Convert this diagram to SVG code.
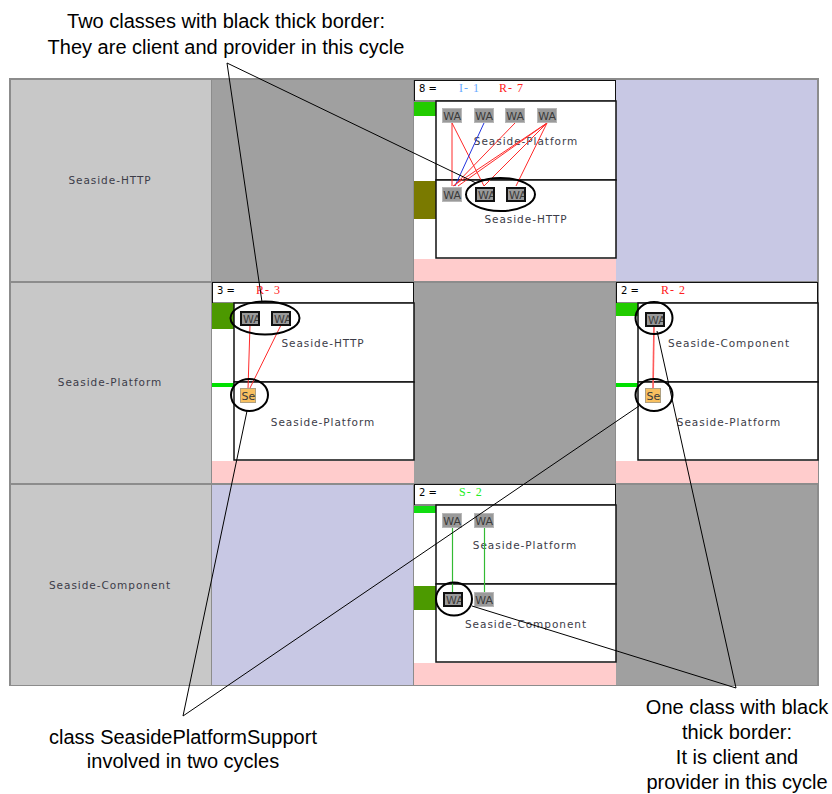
<svg xmlns="http://www.w3.org/2000/svg" xmlns:xlink="http://www.w3.org/1999/xlink" width="832" height="794" viewBox="0 0 832 794">
<defs>
<style>
.note{font-family:"Liberation Sans",Arial,sans-serif;font-size:20px;fill:#000;text-anchor:middle}
.lbl{font-family:"DejaVu Sans",sans-serif;font-size:10.5px;fill:#3c3c48;text-anchor:middle;letter-spacing:0.95px}
.hdr{font-family:"DejaVu Sans",sans-serif;font-size:10px;fill:#000}
.cyc{font-family:"Liberation Serif",serif;font-size:12px;letter-spacing:1px}
.box{fill:#fff;stroke:#111;stroke-width:1.5}
.ann{stroke:#000;stroke-width:1;fill:none}
.ell{stroke:#000;stroke-width:2;fill:none}
.red{stroke:#ff2a2a;stroke-width:1;fill:none}
.blue{stroke:#2233dd;stroke-width:1;fill:none}
.grn{stroke:#33bb33;stroke-width:1.2;fill:none}
.watx{font-family:"DejaVu Sans",sans-serif;font-size:11px;fill:#3a3a3a}
</style>
<symbol id="wa" viewBox="0 0 20 15" overflow="hidden">
<rect x="0.5" y="0.5" width="19" height="14" fill="#9a9a9a" stroke="#b8b8b8"/>
<text class="watx" x="1.2" y="11.8">WA</text>
</symbol>
<symbol id="wat" viewBox="0 0 20 15" overflow="hidden">
<rect x="0" y="0" width="20" height="15" fill="#9a9a9a"/>
<text class="watx" x="3" y="11.8" fill="#555">WA</text>
<rect x="1" y="1" width="18" height="13" fill="none" stroke="#111" stroke-width="2"/>
</symbol>
<symbol id="se" viewBox="0 0 16 15" overflow="hidden">
<rect x="0.5" y="0.5" width="15" height="14" fill="#f8c060" stroke="#b0a080"/>
<text class="watx" x="1.5" y="11.8" fill="#4a3a20">Se</text>
</symbol>
</defs>

<rect x="0" y="0" width="832" height="794" fill="#fff"/>

<g id="grid">
<rect x="9" y="78" width="810" height="608" fill="#8c8c8c"/>
<rect x="11" y="80" width="200" height="201" fill="#c8c8c8"/>
<rect x="11" y="283" width="200" height="200" fill="#c8c8c8"/>
<rect x="11" y="485" width="200" height="200" fill="#c8c8c8"/>
<rect x="212" y="80" width="201" height="201" fill="#a0a0a0"/>
<rect x="414" y="283" width="201" height="200" fill="#a0a0a0"/>
<rect x="616" y="485" width="201" height="200" fill="#a0a0a0"/>
<rect x="616" y="80" width="201" height="201" fill="#c8c8e4"/>
<rect x="212" y="485" width="201" height="200" fill="#c8c8e4"/>
</g>

<g id="row-labels">
<text class="lbl" x="110" y="184">Seaside-HTTP</text>
<text class="lbl" x="110" y="386">Seaside-Platform</text>
<text class="lbl" x="110" y="589">Seaside-Component</text>
</g>

<g id="cell-http-platform" transform="translate(414,80)">
<rect x="0" y="0" width="202" height="201" fill="#fff"/>
<rect x="0" y="179" width="202" height="22" fill="#ffcccc"/>
<rect x="0.5" y="0.5" width="201" height="20.5" fill="#fff" stroke="#111" stroke-width="1"/>
<rect x="0" y="22" width="22" height="14" fill="#22cc00"/>
<rect x="0" y="101" width="22" height="38" fill="#7a7a00"/>
<rect class="box" x="22" y="21" width="180" height="79"/>
<rect class="box" x="22" y="100" width="180" height="78"/>
<text class="hdr" x="5" y="11.5">8 =</text>
<text class="cyc" x="45" y="11.5" fill="#66aaff">I- 1</text>
<text class="cyc" x="85" y="11.5" fill="#ff2020">R- 7</text>
<text class="lbl" x="112" y="65">Seaside-Platform</text>
<text class="lbl" x="112" y="143">Seaside-HTTP</text>
<line class="red" x1="38" y1="43" x2="38" y2="106"/>
<line class="red" x1="38" y1="43" x2="70" y2="106"/>
<line class="blue" x1="70" y1="43" x2="41" y2="106"/>
<line class="red" x1="101" y1="43" x2="40" y2="106"/>
<line class="red" x1="133" y1="43" x2="39" y2="106"/>
<line class="red" x1="133" y1="43" x2="44" y2="106"/>
<line class="red" x1="133" y1="43" x2="70" y2="106"/>
<line class="red" x1="133" y1="43" x2="102" y2="106"/>
<use href="#wa" x="28" y="28" width="20" height="15"/>
<use href="#wa" x="60" y="28" width="20" height="15"/>
<use href="#wa" x="91" y="28" width="20" height="15"/>
<use href="#wa" x="123" y="28" width="20" height="15"/>
<use href="#wa" x="28" y="107" width="20" height="15"/>
<use href="#wat" x="61" y="107" width="20" height="15"/>
<use href="#wat" x="92" y="107" width="20" height="15"/>
</g>

<g id="cell-platform-http" transform="translate(212,282)">
<rect x="0" y="0" width="202" height="201" fill="#fff"/>
<rect x="0" y="179" width="202" height="22" fill="#ffcccc"/>
<rect x="0.5" y="0.5" width="201" height="20.5" fill="#fff" stroke="#111" stroke-width="1"/>
<rect x="0" y="21" width="22" height="26" fill="#4c9900"/>
<rect x="0" y="101" width="22" height="4" fill="#00e000"/>
<rect class="box" x="22" y="21" width="180" height="79"/>
<rect class="box" x="22" y="100" width="180" height="78"/>
<text class="hdr" x="5" y="11.5">3 =</text>
<text class="cyc" x="44" y="11.5" fill="#ff2020">R- 3</text>
<text class="lbl" x="111" y="65">Seaside-HTTP</text>
<text class="lbl" x="111" y="144">Seaside-Platform</text>
<line class="red" x1="38" y1="43" x2="36" y2="107"/>
<line class="red" x1="69" y1="43" x2="37.5" y2="107"/>
<use href="#wat" x="28" y="29" width="20" height="15"/>
<use href="#wat" x="59" y="29" width="20" height="15"/>
<use href="#se" x="28" y="106" width="16" height="15"/>
</g>

<g id="cell-platform-component" transform="translate(616,282)">
<rect x="0" y="0" width="202" height="201" fill="#fff"/>
<rect x="0" y="179" width="202" height="22" fill="#ffcccc"/>
<rect x="0.5" y="0.5" width="201" height="20.5" fill="#fff" stroke="#111" stroke-width="1"/>
<rect x="0" y="21" width="22" height="13" fill="#22cc00"/>
<rect x="0" y="101" width="22" height="4" fill="#00e000"/>
<rect class="box" x="22" y="21" width="180" height="79"/>
<rect class="box" x="22" y="100" width="180" height="78"/>
<text class="hdr" x="5" y="11.5">2 =</text>
<text class="cyc" x="45" y="11.5" fill="#ff2020">R- 2</text>
<text class="lbl" x="113" y="65">Seaside-Component</text>
<text class="lbl" x="113" y="144">Seaside-Platform</text>
<line x1="38" y1="43" x2="37" y2="107" stroke="#ff5a5a" stroke-width="1.6"/>
<use href="#wat" x="29" y="30" width="20" height="15"/>
<use href="#se" x="29" y="106" width="16" height="15"/>
</g>

<g id="cell-component-platform" transform="translate(414,484)">
<rect x="0" y="0" width="202" height="201" fill="#fff"/>
<rect x="0" y="179" width="202" height="22" fill="#ffcccc"/>
<rect x="0.5" y="0.5" width="201" height="20.5" fill="#fff" stroke="#111" stroke-width="1"/>
<rect x="0" y="22" width="22" height="7" fill="#11dd11"/>
<rect x="0" y="102" width="22" height="24" fill="#4c9a00"/>
<rect class="box" x="22" y="21" width="180" height="79"/>
<rect class="box" x="22" y="100" width="180" height="78"/>
<text class="hdr" x="5" y="11.5">2 =</text>
<text class="cyc" x="45" y="11.5" fill="#22ee22">S- 2</text>
<text class="lbl" x="111" y="65">Seaside-Platform</text>
<text class="lbl" x="112" y="144">Seaside-Component</text>
<line class="grn" x1="38.5" y1="44" x2="38.5" y2="108"/>
<line class="grn" x1="70.5" y1="44" x2="70.5" y2="108"/>
<use href="#wa" x="28" y="29" width="20" height="15"/>
<use href="#wa" x="60" y="29" width="20" height="15"/>
<use href="#wat" x="29" y="108" width="20" height="15"/>
<use href="#wa" x="60" y="108" width="20" height="15"/>
</g>

<g id="annotations">
<ellipse class="ell" cx="500.5" cy="194.5" rx="34.5" ry="16.5"/>
<ellipse class="ell" cx="265" cy="318" rx="34.5" ry="16.5"/>
<ellipse class="ell" cx="249.5" cy="395" rx="18.5" ry="16"/>
<ellipse class="ell" cx="654" cy="318" rx="18.5" ry="16"/>
<ellipse class="ell" cx="654" cy="395" rx="18.5" ry="16"/>
<ellipse class="ell" cx="454" cy="599" rx="18" ry="16.5"/>
</g>

<g id="connectors">
<line class="ann" x1="227" y1="63" x2="262" y2="302"/>
<line class="ann" x1="227" y1="63" x2="476" y2="183"/>
<line class="ann" x1="183" y1="716" x2="247" y2="411"/>
<line class="ann" x1="183" y1="716" x2="639" y2="406"/>
<line class="ann" x1="736" y1="688" x2="657" y2="331"/>
<line class="ann" x1="736" y1="688" x2="472" y2="606"/>
</g>

<g id="notes">
<text class="note" x="226" y="28">Two classes with black thick border:</text>
<text class="note" x="226" y="54">They are client and provider in this cycle</text>
<text class="note" x="183" y="744">class SeasidePlatformSupport</text>
<text class="note" x="183" y="768">involved in two cycles</text>
<text class="note" x="737" y="714">One class with black</text>
<text class="note" x="737" y="739">thick border:</text>
<text class="note" x="737" y="764">It is client and</text>
<text class="note" x="737" y="789">provider in this cycle</text>
</g>
</svg>
